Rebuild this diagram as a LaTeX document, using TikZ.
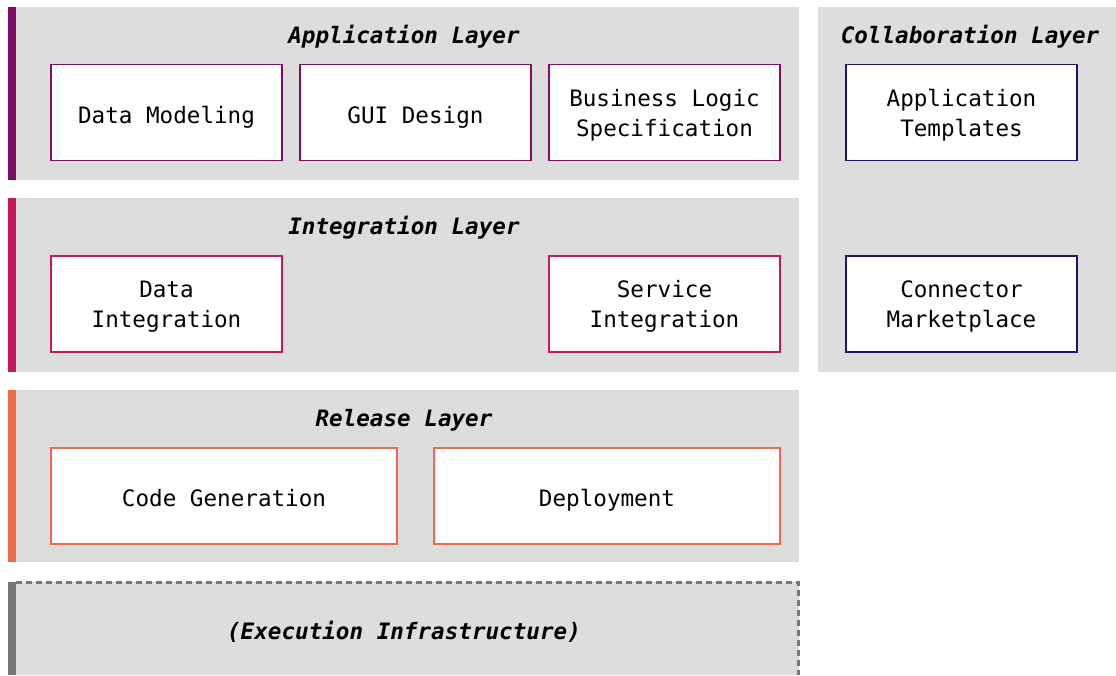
\documentclass[tikz,border=0pt]{standalone}
\usepackage{fontspec}
\setmonofont{DejaVu Sans Mono}
\definecolor{bandfill}{HTML}{DDDDDD}
\definecolor{appcol}{HTML}{7E0C62}
\definecolor{intcol}{HTML}{C8185A}
\definecolor{relcol}{HTML}{EF6A4A}
\definecolor{colcol}{HTML}{16166A}
\definecolor{execol}{HTML}{777777}
\tikzset{
  band/.style={fill=bandfill, draw=none},
  accent/.style={fill=#1, draw=none},
  comp/.style={draw=#1, line width=1.6pt, fill=white, inner sep=0pt},
  comptext/.style={align=center, inner sep=0pt, yshift=-4.8pt,
    font=\fontsize{22.6}{30}\selectfont\ttfamily,
    execute at begin node=\strut, execute at end node=\strut},
  layertitle/.style={font=\fontsize{22.6}{28}\selectfont\ttfamily\bfseries\itshape, anchor=center},
}
\begin{document}
\begin{tikzpicture}[x=1pt,y=-1pt]
\useasboundingbox (0,0) rectangle (1116,675);

% Application layer
\fill[band] (16,7) rectangle (799,180);
\fill[accent=appcol] (8,7) rectangle (16,180);
\node[layertitle] (apptitle) at (404,37) {Application Layer};
\node[comp=appcol, minimum width=231pt, minimum height=96pt,
  label={[comptext]center:Data Modeling}] (dm) at (166.5,112.5) {};
\node[comp=appcol, minimum width=231pt, minimum height=96pt,
  label={[comptext]center:GUI Design}] (gui) at (415.5,112.5) {};
\node[comp=appcol, minimum width=231pt, minimum height=96pt,
  label={[comptext]center:{Business Logic\\Specification}}] (blog) at (664.5,112.5) {};

% Integration layer
\fill[band] (16,198) rectangle (799,372);
\fill[accent=intcol] (8,198) rectangle (16,372);
\node[layertitle] (inttitle) at (404,228) {Integration Layer};
\node[comp=intcol, minimum width=231pt, minimum height=96pt,
  label={[comptext]center:{Data\\Integration}}] (dint) at (166.5,304) {};
\node[comp=intcol, minimum width=231pt, minimum height=96pt,
  label={[comptext]center:{Service\\Integration}}] (sint) at (664.5,304) {};

% Release layer
\fill[band] (16,390) rectangle (799,562);
\fill[accent=relcol] (8,390) rectangle (16,562);
\node[layertitle] (reltitle) at (404,420) {Release Layer};
\node[comp=relcol, minimum width=346pt, minimum height=96pt,
  label={[comptext]center:Code Generation}] (cgen) at (224,496) {};
\node[comp=relcol, minimum width=346pt, minimum height=96pt,
  label={[comptext]center:Deployment}] (depl) at (607,496) {};

% Execution infrastructure
\fill[band] (16,582) rectangle (799,675);
\draw[execol, line width=2.2pt, dash pattern=on 6pt off 4pt] (16,582.5) -- (798.5,582.5) -- (798.5,675);
\fill[accent=execol] (8,582) rectangle (16,675);
\node[layertitle] (exetitle) at (404,632) {(Execution Infrastructure)};

% Collaboration layer
\fill[band] (818,7) rectangle (1116,372);
\node[layertitle] (coltitle) at (970,37) {Collaboration Layer};
\node[comp=colcol, minimum width=231pt, minimum height=96pt,
  label={[comptext]center:{Application\\Templates}}] (tmpl) at (961.5,112.5) {};
\node[comp=colcol, minimum width=231pt, minimum height=96pt,
  label={[comptext]center:{Connector\\Marketplace}}] (mkt) at (961.5,304) {};
\end{tikzpicture}
\end{document}
